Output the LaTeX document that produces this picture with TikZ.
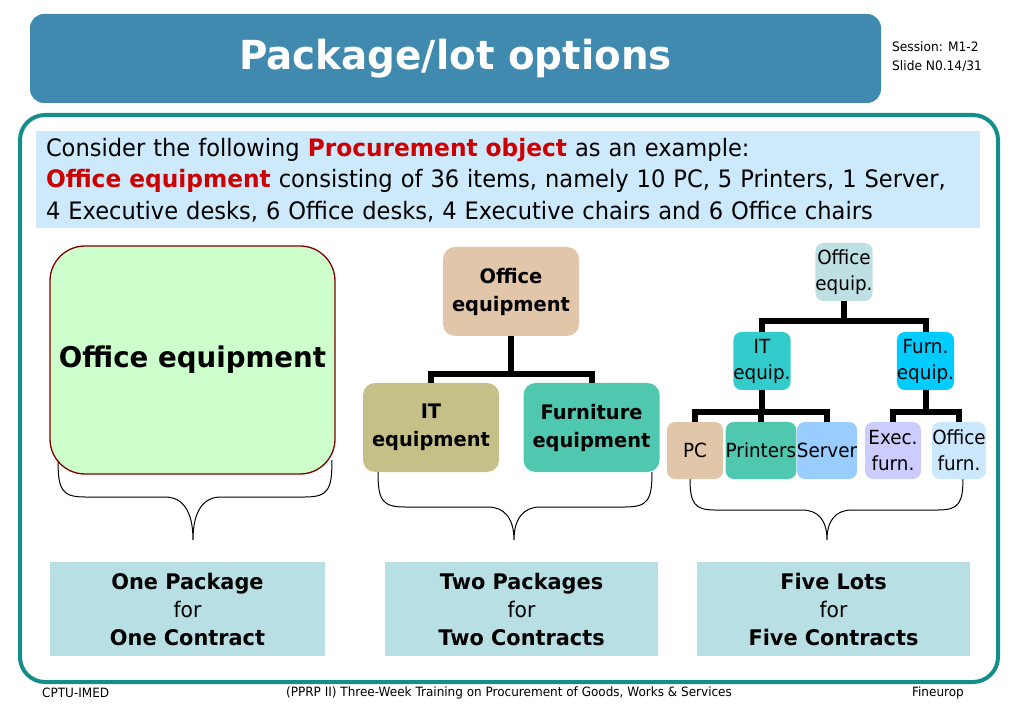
\documentclass[tikz,border=0pt]{standalone}
\usepackage{fontspec}
\setmainfont{DejaVu Sans}[FakeStretch=0.94]
\newfontfamily\bfam{DejaVu Sans}[FakeStretch=0.97]
\newcommand\bt[1]{{\bfam\bfseries #1}}
\newcommand\fsz[2]{\fontsize{#1}{#2}\selectfont}
\usetikzlibrary{calc}
\definecolor{titlebg}{RGB}{64,138,176}
\definecolor{framec}{RGB}{20,142,138}
\definecolor{introbg}{RGB}{205,233,252}
\definecolor{hired}{RGB}{204,0,0}
\definecolor{greenbox}{RGB}{204,255,204}
\definecolor{darkred}{RGB}{128,0,0}
\definecolor{tan}{RGB}{226,198,170}
\definecolor{khaki}{RGB}{196,192,136}
\definecolor{teal2}{RGB}{80,200,176}
\definecolor{paleblue}{RGB}{190,224,226}
\definecolor{itc}{RGB}{51,204,204}
\definecolor{furnc}{RGB}{0,204,255}
\definecolor{serverc}{RGB}{153,204,255}
\definecolor{execc}{RGB}{204,204,255}
\definecolor{offc}{RGB}{204,232,255}
\definecolor{resbg}{RGB}{184,223,227}
\tikzset{
  box/.style={rounded corners=12pt, inner sep=0pt, align=center},
  midbox/.style={box, minimum width=136pt, minimum height=89pt, font=\fsz{20}{28}\bfam\bfseries},
  smallbox/.style={box, rounded corners=8pt, minimum width=56pt, minimum height=57pt, font=\fsz{19.5}{26}},
  conn/.style={line width=6pt, line join=miter},
  bracec/.style={line width=1pt, black},
  resbox/.style={fill=resbg, inner sep=0pt, minimum width=274pt, minimum height=94pt, align=center, font=\fsz{21.5}{28}},
  foot/.style={font=\fsz{12.8}{15}, inner sep=0pt}
}
\begin{document}
\begin{tikzpicture}[x=1pt,y=-1pt]
\useasboundingbox (0,0) rectangle (1023,708);
\fill[white] (0,0) rectangle (1023,708);
% title bar
\node[fill=titlebg, rounded corners=14pt, minimum width=851pt, minimum height=89pt, inner sep=0pt,
  text=white, font=\fsz{40}{48}\bfam\bfseries] (title) at (455.5,58.5) {Package/lot options};
\node[anchor=west, align=left, inner sep=0pt, font=\fsz{13}{19}] (session) at (892,57) {Session: M1-2\\Slide N0.14/31};
% frame
\draw[framec, line width=4pt, rounded corners=25pt] (20,115) rectangle (998,682);
% intro text
\node[fill=introbg, minimum width=944pt, minimum height=97pt, inner xsep=10pt, inner ysep=0pt,
  text width=924pt, align=left, font=\fsz{24}{31.5}] (intro) at (508,180)
  {Consider the following \textcolor{hired}{\bt{Procurement object}} as an example:\\
   \textcolor{hired}{\bt{Office equipment}} consisting of 36 items, namely 10 PC, 5 Printers, 1 Server,\\
   4 Executive desks, 6 Office desks, 4 Executive chairs and 6 Office chairs};
% braces (behind boxes)
\draw[bracec] (58,460) .. controls (58,490) and (62,497) .. (85,497) -- (165,497)
  .. controls (182,497) and (193,510) .. (193,540)
  .. controls (193,510) and (204,497) .. (221,497) -- (305,497)
  .. controls (328,497) and (332,490) .. (332,460);
\draw[bracec] (378,472) .. controls (378,500) and (382,507) .. (405,507) -- (488,507)
  .. controls (504,507) and (514,518) .. (514,540)
  .. controls (514,518) and (524,507) .. (540,507) -- (625,507)
  .. controls (648,507) and (652,500) .. (652,472);
\draw[bracec] (690,478) .. controls (690,503) and (694,510) .. (715,510) -- (802,510)
  .. controls (818,510) and (827,520) .. (827,540)
  .. controls (827,520) and (836,510) .. (852,510) -- (938,510)
  .. controls (959,510) and (963,503) .. (963,478);
% left option
\node[box, rounded corners=35pt, fill=greenbox, draw=darkred, line width=1.3pt,
  minimum width=285pt, minimum height=228pt, font=\fsz{28.5}{34}\bfam\bfseries] (one) at (192.5,360) {Office equipment};
% middle tree
\node[midbox, fill=tan] (mo) at (511,291.5) {Office\\equipment};
\node[midbox, fill=khaki] (mit) at (431,427.5) {IT\\equipment};
\node[midbox, fill=teal2] (mfe) at (591.5,427.5) {Furniture\\equipment};
\draw[conn] (mo.south) -- ++(0,38) -| (mit.north);
\draw[conn] (mo.south) -- ++(0,38) -| (mfe.north);
% right tree
\node[smallbox, fill=paleblue, minimum width=54pt, minimum height=58pt] (ro) at (844,272) {Office\\equip.};
\node[smallbox, fill=itc, minimum height=58pt] (rit) at (762,361) {IT\\equip.};
\node[smallbox, fill=furnc, minimum width=57pt, minimum height=58pt] (rfe) at (925.5,361) {Furn.\\equip.};
\node[smallbox, fill=tan] (pc) at (695,450.5) {PC};
\node[smallbox, fill=teal2] (pr) at (761,450.5) {Printers};
\node[smallbox, fill=serverc] (sv) at (827,450.5) {Server};
\node[smallbox, fill=execc] (ex) at (893,450.5) {Exec.\\furn.};
\node[smallbox, fill=offc, minimum width=54pt] (of) at (959,450.5) {Office\\furn.};
\draw[conn] (ro.south) -- ++(0,20) -| (rit.north);
\draw[conn] (ro.south) -- ++(0,20) -| (rfe.north);
\draw[conn] (rit.south) -- ++(0,22) -| (pc.north);
\draw[conn] (rit.south) -- ++(0,22) -| (pr.north);
\draw[conn] (rit.south) -- ++(0,22) -| (sv.north);
\draw[conn] (rfe.south) -- ++(0,22) -| (ex.north);
\draw[conn] (rfe.south) -- ++(0,22) -| (of.north);
% results
\node[resbox, minimum width=275pt] (r1) at (187.5,609) {\bt{One Package}\\for\\\bt{One Contract}};
\node[resbox, minimum width=273pt] (r2) at (521.5,609) {\bt{Two Packages}\\for\\\bt{Two Contracts}};
\node[resbox, minimum width=273pt] (r3) at (833.5,609) {\bt{Five Lots}\\for\\\bt{Five Contracts}};
% footer
\node[foot, anchor=west] (f1) at (42,693) {CPTU-IMED};
\node[foot] (f2) at (509,693) {(PPRP II) Three-Week Training on Procurement of Goods, Works \& Services};
\node[foot, anchor=east] (f3) at (964,693) {Fineurop};
\end{tikzpicture}
\end{document}
